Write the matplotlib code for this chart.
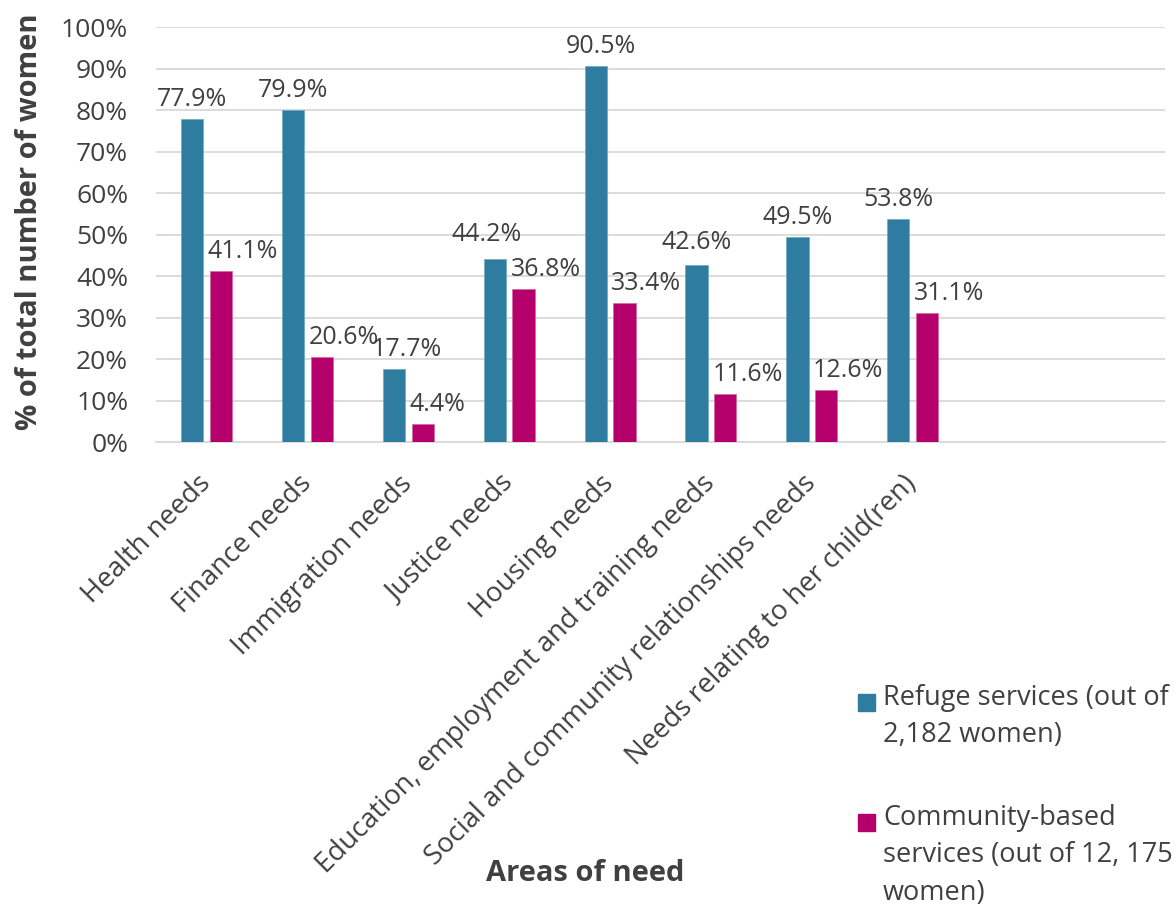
import numpy as np
import matplotlib.pyplot as plt
from matplotlib.patches import Rectangle

plt.rcParams['font.family'] = ['Open Sans', 'DejaVu Sans']

# data
categories = ['Health needs', 'Finance needs', 'Immigration needs', 'Justice needs',
              'Housing needs', 'Education, employment and training needs',
              'Social and community relationships needs',
              'Needs relating to her child(ren)']
refuge = [77.9, 79.9, 17.7, 44.2, 90.5, 42.6, 49.5, 53.8]
community = [41.1, 20.6, 4.4, 36.8, 33.4, 11.6, 12.6, 31.1]
series_names = ['Refuge services (out of\n2,182 women)',
                'Community-based\nservices (out of 12, 175\nwomen)']

# style
blue = '#2E7C9F'
magenta = '#B5006B'
text_col = '#404040'
grid_col = '#D9D9D9'
fs = 18

# manual label nudges (pixels) as in the original
refuge_dx = [0, 0, 13, -8, 5, 0, 0, 0]
refuge_dy = [0, 0, 0, 5, 0, 3, 0, 0]

fig = plt.figure(figsize=(11.75, 9.10), dpi=100)
ax = fig.add_axes([156 / 1175, 1 - 442 / 910, 1009 / 1175, 415 / 910])

x = np.arange(len(categories))
w = 0.22
off = 0.143
ax.bar(x - off, refuge, width=w, color=blue, edgecolor='#6FA8C0', linewidth=0.5, zorder=3)
ax.bar(x + off, community, width=w, color=magenta, edgecolor='#D466A0', linewidth=0.5, zorder=3)

px = 72 / 100  # points per pixel
for i, v in enumerate(refuge):
    ax.annotate(f'{v}%', xy=(x[i] - off, v),
                xytext=(refuge_dx[i] * px, (13 + refuge_dy[i]) * px),
                textcoords='offset points', ha='center', va='baseline',
                fontsize=fs, color=text_col)
for i, v in enumerate(community):
    ax.annotate(f'{v}%', xy=(x[i] + off - w / 2, v),
                xytext=(-2 * px, 13 * px),
                textcoords='offset points', ha='left', va='baseline',
                fontsize=fs, color=text_col)

ax.set_xlim(-0.5, 9.5)
ax.set_ylim(0, 100)
ax.set_yticks(np.arange(0, 101, 10))
ax.set_yticklabels([f'{t}%' for t in range(0, 101, 10)])
ax.yaxis.grid(True, color=grid_col, linewidth=1.3, zorder=0)
ax.set_axisbelow(True)
for s in ['top', 'right', 'left']:
    ax.spines[s].set_visible(False)
ax.spines['bottom'].set_color(grid_col)
ax.spines['bottom'].set_linewidth(1.3)

ax.set_xticks(x)
ax.set_xticklabels(categories, rotation=45, ha='right', va='center',
                   rotation_mode='anchor')
ax.tick_params(axis='both', length=0, colors=text_col)
ax.tick_params(axis='y', pad=20, labelsize=19)
ax.tick_params(axis='x', pad=27, labelsize=19.8)

ax.set_ylabel('% of total number of women', fontsize=21, fontweight='bold',
              color=text_col, va='center')
ax.yaxis.set_label_coords(-0.125, 0.53)
ax.set_xlabel('Areas of need', fontsize=21, fontweight='bold', color=text_col,
              va='center')
ax.xaxis.set_label_coords(0.425, -1.04)

# legend drawn by hand, square aligned to first line of each entry
leg_tops = [690, 810]
for name, col, top in zip(series_names, [blue, magenta], leg_tops):
    fig.add_artist(Rectangle((858 / 1175, 1 - (top + 21) / 910), 17 / 1175, 17 / 910,
                             transform=fig.transFigure, color=col))
    fig.text(883 / 1175, 1 - (top - 6) / 910, name, fontsize=19.5, color=text_col,
             ha='left', va='top', linespacing=1.45)

fig.savefig('out.png', dpi=100)
